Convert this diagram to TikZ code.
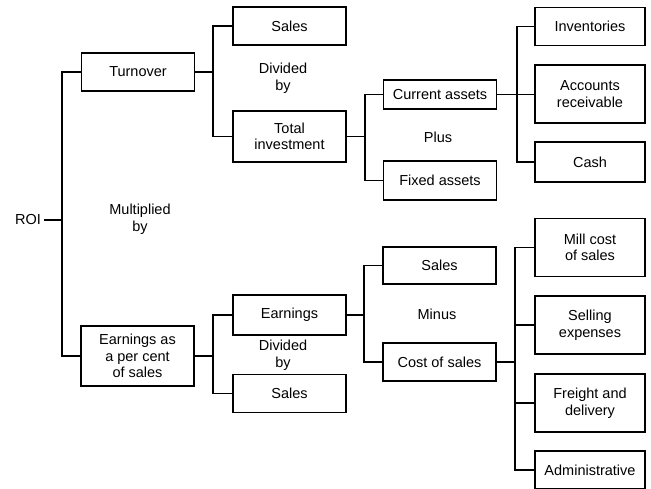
\documentclass[tikz,border=0pt]{standalone}
\usepackage{fontspec}
\setmainfont{Liberation Sans}
\usetikzlibrary{positioning}

\begin{document}
\begin{tikzpicture}[x=1pt, y=-1pt,
  font=\fontsize{14.5}{16.5}\selectfont,
  box/.style={draw, line width=1.3pt, align=center, inner sep=0pt,
              minimum width=113, minimum height=38},
  tall/.style={minimum height=58},
  link/.style={line width=1.1pt},
  every node/.style={align=center}
]
\useasboundingbox (0,0) rectangle (651,488);

% first level
\node (roi) at (28,220) {ROI};
\node[box] (turn) at (138,72) {Turnover};
\node[box, minimum height=60] (eps) at (137.5,356) {Earnings as\\a per cent\\of sales};
\node (mult) at (140,219) {Multiplied\\by};

% turnover side
\node[box] (salesA) at (289.5,26) {Sales};
\node (divA) at (283,78) {Divided\\by};
\node[box, minimum height=51] (tinv) at (289.5,136.5) {Total\\investment};
\node[box, minimum height=29] (curr) at (440,94.5) {Current assets};
\node (plus) at (438,137) {Plus};
\node[box, minimum height=39] (fix) at (440,180.5) {Fixed assets};
\node[box, minimum width=110] (inv) at (590,26.5) {Inventories};
\node[box, tall, minimum width=110] (accr) at (590,94) {Accounts\\receivable};
\node[box, minimum width=110, minimum height=40] (cash) at (590,162) {Cash};

% earnings side
\node[box, minimum height=40] (earn) at (289.5,315) {Earnings};
\node (divB) at (283,355) {Divided\\by};
\node[box] (salesC) at (289.5,393.5) {Sales};
\node[box, minimum height=37] (salesB) at (439.5,265.5) {Sales};
\node (minus) at (437,314) {Minus};
\node[box] (cost) at (439.5,362) {Cost of sales};
\node[box, tall, minimum width=110] (mill) at (590,247.5) {Mill cost\\of sales};
\node[box, tall, minimum width=110] (sell) at (590,325) {Selling\\expenses};
\node[box, tall, minimum width=110] (frt) at (590,403) {Freight and\\delivery};
\node[box, minimum width=110] (admin) at (590,470) {Administrative};

% junctions
\coordinate (rj) at (62,220);
\coordinate (tj) at (213,72);
\coordinate (ij) at (365,136.5);
\coordinate (cj) at (517,94.5);
\coordinate (ej) at (213,356);
\coordinate (nj) at (364,315);
\coordinate (kj) at (515,362);

% connectors
\draw[link] (roi.east) -- (rj);
\draw[link] (turn.west) -| (rj) |- (eps.west);
\draw[link] (turn.east) -- (tj);
\draw[link] (salesA.west) -| (tj) |- (tinv.west);
\draw[link] (tinv.east) -- (ij);
\draw[link] (curr.west) -| (ij) |- (fix.west);
\draw[link] (curr.east) -- (curr.east -| accr.west);
\draw[link] (inv.west) -| (cj) |- (cash.west);
\draw[link] (eps.east) -- (ej);
\draw[link] (earn.west) -| (ej) |- (salesC.west);
\draw[link] (earn.east) -- (nj);
\draw[link] (salesB.west) -| (nj) |- (cost.west);
\draw[link] (cost.east) -- (kj);
\draw[link] (mill.west) -| (kj) |- (admin.west);
\draw[link] (kj) |- (sell.west);
\draw[link] (kj) |- (frt.west);
\end{tikzpicture}
\end{document}
